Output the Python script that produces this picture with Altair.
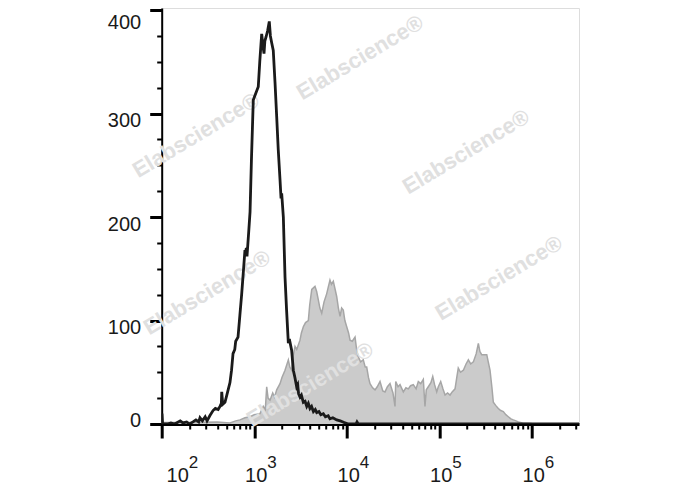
import altair as alt
import pandas as pd

# ---------------- data ----------------
# black histogram (log10 of intensity, count)
black_log = [2.000, 2.003, 2.01, 2.06, 2.10, 2.14, 2.20, 2.23, 2.27, 2.30, 2.338, 2.37, 2.40, 2.414,
             2.44, 2.47, 2.49, 2.52, 2.555, 2.58, 2.61, 2.63, 2.645, 2.649, 2.66, 2.684, 2.71, 2.738,
             2.755, 2.771, 2.79, 2.80, 2.825, 2.845, 2.865, 2.885, 2.90, 2.905, 2.915, 2.922, 2.94,
             2.955, 2.97, 2.99, 3.01, 3.044, 3.06, 3.081, 3.095, 3.106, 3.115, 3.128, 3.145, 3.163,
             3.175, 3.19, 3.206, 3.225, 3.243, 3.26, 3.279, 3.29, 3.297, 3.315, 3.333, 3.35, 3.369,
             3.38, 3.405, 3.423, 3.44, 3.459, 3.47, 3.48, 3.495, 3.51, 3.531, 3.55, 3.568, 3.585,
             3.603, 3.62, 3.64, 3.66, 3.676, 3.70, 3.72, 3.747, 3.77, 3.80, 3.819, 3.85, 3.892, 3.93,
             3.96, 3.982, 4.02, 4.10, 4.111, 4.125, 6.511]
black_cnt = [0, 10, 0, 0, 1, 0, 3, 1, 2, 0, 2, 4, 2, 6,
             3, 7, 3, 8, 13, 15, 14, 17, 20, 31, 19, 21, 30, 40,
             52, 68, 72, 80, 84, 105, 126, 150, 168, 165, 170, 162, 185,
             205, 255, 313, 318, 326, 350, 377, 365, 358, 370, 374, 380, 389,
             375, 368, 361, 330, 297, 265, 236, 218, 223, 200, 142, 110, 78,
             82, 71, 52, 45, 36, 38, 29, 26, 28, 21, 22, 17, 20,
             15, 17, 12, 14, 11, 12, 9, 10, 7, 8, 5, 6, 4, 3,
             2, 1, 0, 0, 2, 0, 0]

# grey filled histogram
grey_log = [2.00, 2.30, 2.60, 2.738, 2.80, 2.846, 2.90, 2.955, 3.00, 3.063, 3.098, 3.12, 3.135, 3.15,
            3.171, 3.20, 3.22, 3.243, 3.279, 3.30, 3.333, 3.369, 3.385, 3.405, 3.42, 3.441, 3.46,
            3.495, 3.51, 3.531, 3.555, 3.585, 3.60, 3.622, 3.657, 3.675, 3.693, 3.71, 3.730, 3.755,
            3.784, 3.80, 3.819, 3.835, 3.855, 3.875, 3.892, 3.91, 3.928, 3.945, 3.963, 3.98, 4.000,
            4.02, 4.036, 4.06, 4.090, 4.11, 4.125, 4.15, 4.179, 4.20, 4.216, 4.235, 4.252, 4.28,
            4.306, 4.33, 4.360, 4.39, 4.414, 4.44, 4.468, 4.50, 4.522, 4.53, 4.555, 4.576, 4.612,
            4.64, 4.666, 4.69, 4.720, 4.75, 4.774, 4.80, 4.828, 4.846, 4.86, 4.882, 4.91, 4.930,
            4.95, 4.973, 4.99, 5.016, 5.04, 5.063, 5.09, 5.117, 5.14, 5.171, 5.19, 5.206, 5.23,
            5.261, 5.29, 5.315, 5.34, 5.369, 5.40, 5.423, 5.44, 5.459, 5.514, 5.53, 5.549, 5.57,
            5.585, 5.61, 5.639, 5.665, 5.693, 5.72, 5.747, 5.775, 5.801, 5.83, 5.855, 5.90, 6.00,
            6.511]
grey_cnt = [1.5, 1.5, 2, 1, 3, 4, 6, 7, 9, 10, 17, 14, 36, 25,
            23, 30, 26, 33, 39, 45, 52, 62, 55, 52, 65, 75, 72,
            81, 88, 94, 98, 100, 115, 130, 133, 128, 120, 112, 107, 118,
            126, 132, 139, 135, 138, 130, 123, 112, 104, 112, 110, 100, 94,
            88, 81, 80, 84, 70, 65, 60, 62, 55, 55, 45, 39, 35,
            33, 36, 41, 32, 31, 36, 39, 30, 17, 41, 36, 38, 31,
            35, 34, 37, 38, 34, 41, 39, 43, 17, 33, 36, 40, 46,
            38, 31, 36, 41, 34, 28, 30, 28, 31, 34, 45, 54, 50,
            52, 58, 62, 58, 60, 68, 78, 70, 67, 67, 60, 52, 35,
            21, 18, 15, 13, 12, 9, 7, 5, 4, 3, 2, 1, 0.5,
            0]

# axes
x_min_log, x_max_log = 2.0, 6.511
decades = [2, 3, 4, 5, 6]
multipliers = [2, 3, 4, 5, 6, 7, 8, 9]
y_ticks = list(range(0, 401, 25))
y_max = 402

# watermark
wm_log = [2.371, 4.144, 5.29, 2.49, 5.646, 3.604]
wm_cnt = [279, 354, 263, 127, 141, 38]
wm_text = "Elabscience®"

# ---------------- build tables ----------------
XMAX = 10 ** x_max_log
black = pd.DataFrame({"x": [10 ** v for v in black_log], "y": black_cnt})
grey = pd.DataFrame({"x": [10 ** v for v in grey_log], "y": grey_cnt})
x_ticks = [10.0 ** d for d in decades] + [m * 10.0 ** d for d in decades for m in multipliers
                                          if m * 10.0 ** d <= XMAX]
lab = pd.DataFrame({"x": [10.0 ** d for d in decades], "base": ["10"] * len(decades),
                    "exp": [str(d) for d in decades], "d": decades})
wm = pd.DataFrame({"x": [10 ** v for v in wm_log], "y": wm_cnt, "t": [wm_text] * len(wm_log)})

W, H = 417.3, 416
FONT = "Liberation Sans"
xscale = alt.Scale(type="log", domain=[10 ** x_min_log, XMAX], nice=False)
yscale = alt.Scale(domain=[0, y_max], nice=False, zero=True)

is_decade = "abs(log(datum.value)/LN10 - round(log(datum.value)/LN10)) < 0.000001"
x_axis = alt.Axis(values=x_ticks, labels=False, title=None, grid=False,
                  domainColor="#000000", domainWidth=3, tickColor="#000000",
                  tickSize={"condition": {"test": is_decade, "value": 14}, "value": 5},
                  tickWidth={"condition": {"test": is_decade, "value": 3}, "value": 2})
y_axis = alt.Axis(values=y_ticks, title=None, grid=False,
                  labelExpr="datum.value % 100 == 0 ? datum.label : ''",
                  labelFont=FONT, labelFontSize=20, labelColor="#1a1a1a", labelPadding=9,
                  labelOffset={"condition": [{"test": "datum.value == 400", "value": 12},
                                             {"test": "datum.value == 0", "value": -4}],
                               "value": 7},
                  domainColor="#000000", domainWidth=2, tickColor="#000000",
                  tickSize={"condition": {"test": "datum.value % 100 == 0", "value": 12}, "value": 5},
                  tickWidth={"condition": {"test": "datum.value % 100 == 0", "value": 3}, "value": 2})

X = alt.X("x:Q", scale=xscale, axis=x_axis)
Y = alt.Y("y:Q", scale=yscale, axis=y_axis)

grey_area = alt.Chart(grey).mark_area(color="#cbcbcb", interpolate="linear", clip=True).encode(x=X, y=Y)
grey_line = alt.Chart(grey).mark_line(color="#a6a6a6", strokeWidth=1.5, clip=True).encode(x=X, y=Y)
watermark = alt.Chart(wm).mark_text(font=FONT, fontSize=22, fontWeight="bold", color="#e0e0e0",
                                    angle=329, align="center", baseline="middle").encode(
    x=X, y=Y, text="t:N")
black_line = alt.Chart(black).mark_line(color="#1a1a1a", strokeWidth=2.8, clip=True).encode(x=X, y=Y)

lab_main = alt.Chart(lab).transform_filter("datum.d > 2")
lab_first = alt.Chart(lab).transform_filter("datum.d == 2")
base_kw = dict(font=FONT, fontSize=20, color="#1a1a1a", align="center", baseline="alphabetic")
exp_kw = dict(font=FONT, fontSize=17, color="#1a1a1a", align="left", baseline="alphabetic")
base_main = lab_main.mark_text(dx=2, **base_kw).encode(x=X, y=alt.value(H + 58), text="base:N")
base_first = lab_first.mark_text(dx=16, **base_kw).encode(x=X, y=alt.value(H + 58), text="base:N")
exp_main = lab_main.mark_text(dx=13, **exp_kw).encode(x=X, y=alt.value(H + 44), text="exp:N")
exp_first = lab_first.mark_text(dx=27, **exp_kw).encode(x=X, y=alt.value(H + 44), text="exp:N")

chart = alt.layer(grey_area, grey_line, watermark, black_line,
                  base_main, base_first, exp_main, exp_first).properties(
    width=W, height=H,
    autosize=alt.AutoSizeParams(type="none"),
    padding={"left": 153.7, "top": 0, "right": 100, "bottom": 66},
).configure_view(stroke="#9a9a9a", strokeWidth=2).configure(background="white")

chart.save("out.html", embed_options={"renderer": "svg", "actions": False})
